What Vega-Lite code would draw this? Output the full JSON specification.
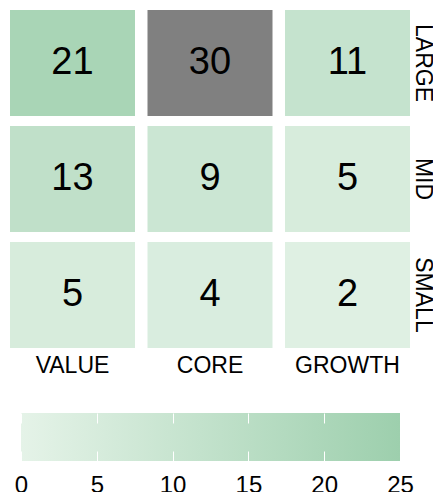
{
  "$schema": "https://vega.github.io/schema/vega-lite/v6.json",
  "padding": {"left": 9, "top": 10, "right": 0, "bottom": 0},
  "background": "white",
  "config": {
    "view": {"stroke": null},
    "font": "Liberation Sans",
    "axis": {"labelFont": "Liberation Sans", "labelColor": "#000000", "title": null, "domain": false, "ticks": false}
  },
  "spacing": 36,
  "vconcat": [
    {
      "width": 400,
      "height": 338,
      "data": {
        "values": [
          {"size": "LARGE", "style": "VALUE", "v": 21},
          {"size": "LARGE", "style": "CORE", "v": 30},
          {"size": "LARGE", "style": "GROWTH", "v": 11},
          {"size": "MID", "style": "VALUE", "v": 13},
          {"size": "MID", "style": "CORE", "v": 9},
          {"size": "MID", "style": "GROWTH", "v": 5},
          {"size": "SMALL", "style": "VALUE", "v": 5},
          {"size": "SMALL", "style": "CORE", "v": 4},
          {"size": "SMALL", "style": "GROWTH", "v": 2}
        ]
      },
      "encoding": {
        "x": {
          "field": "style", "type": "nominal", "sort": ["VALUE", "CORE", "GROWTH"],
          "scale": {"paddingInner": 0.0909, "paddingOuter": 0},
          "axis": {"orient": "bottom", "labelAngle": 0, "labelFontSize": 23, "labelPadding": 6}
        },
        "y": {
          "field": "size", "type": "nominal", "sort": ["LARGE", "MID", "SMALL"],
          "scale": {"paddingInner": 0.0862, "paddingOuter": 0},
          "axis": {"orient": "right", "labelAngle": 90, "labelFontSize": 23, "labelPadding": 0}
        }
      },
      "layer": [
        {
          "mark": {"type": "rect"},
          "encoding": {
            "color": {
              "condition": {"test": "datum.v > 25", "value": "#808080"},
              "field": "v", "type": "quantitative",
              "scale": {"domain": [0, 25], "range": ["#e5f3e8", "#9dcfad"], "interpolate": "rgb"},
              "legend": null
            }
          }
        },
        {
          "mark": {"type": "text", "fontSize": 38, "font": "Liberation Sans", "color": "#000000", "baseline": "middle", "align": "center"},
          "encoding": {"text": {"field": "v", "type": "quantitative"}}
        }
      ]
    },
    {
      "width": 400,
      "height": 48,
      "data": {"values": [{"lo": 0, "hi": 25}]},
      "mark": {
        "type": "rect",
        "fill": {
          "gradient": "linear", "x1": 0, "x2": 1, "y1": 0, "y2": 0,
          "stops": [{"offset": 0, "color": "#e5f3e8"}, {"offset": 1, "color": "#9dcfad"}]
        }
      },
      "encoding": {
        "x": {
          "field": "lo", "type": "quantitative",
          "scale": {"domain": [0, 25], "range": [11, 390], "nice": false, "zero": false},
          "axis": {
            "orient": "bottom", "values": [0, 5, 10, 15, 20, 25], "labelFontSize": 24,
            "labelPadding": 12, "labelAlign": "center", "labelFlush": false,
            "grid": true, "gridColor": "#ffffff", "gridDash": [10, 28], "gridWidth": 1, "gridOpacity": 1,
            "zindex": 1
          }
        },
        "x2": {"field": "hi"}
      }
    }
  ]
}
